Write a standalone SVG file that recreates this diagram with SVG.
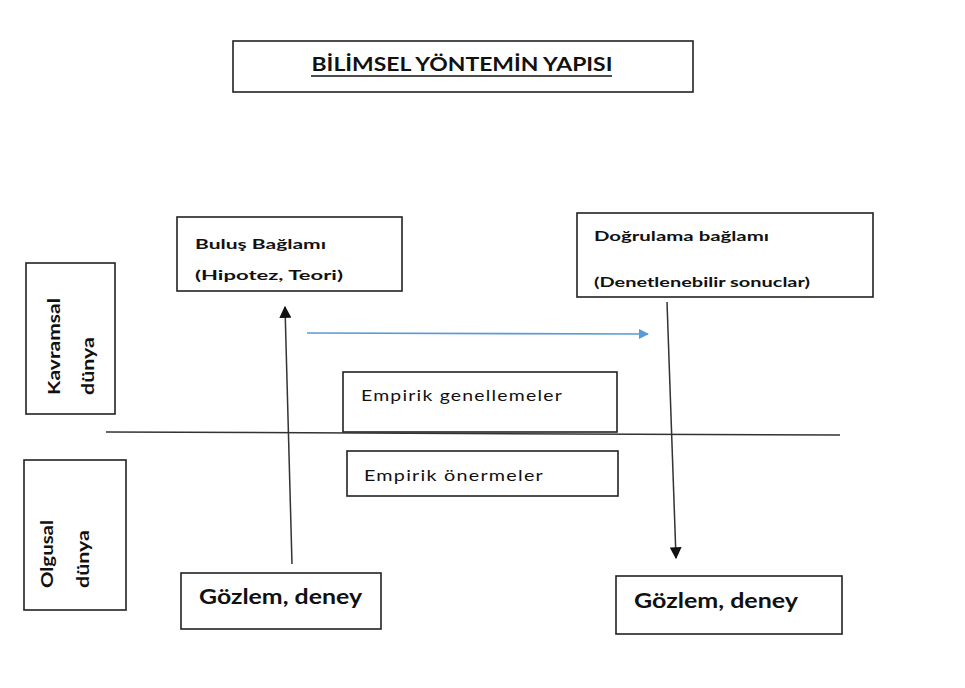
<svg xmlns="http://www.w3.org/2000/svg" width="965" height="688" viewBox="0 0 965 688">
<style>
.box{fill:#fff;stroke:#222;stroke-width:1.6}
.b{font-family:Lato,"Open Sans","Liberation Sans",sans-serif;font-weight:bold;fill:#111}
.r{font-family:Lato,"Open Sans","Liberation Sans",sans-serif;fill:#111;font-size:16px;letter-spacing:1px}
.ln{stroke:#333;stroke-width:1.5;fill:none}
</style>
<defs>
<marker id="ah" viewBox="0 0 10 10" refX="9" refY="5" markerWidth="12" markerHeight="12" markerUnits="userSpaceOnUse" orient="auto">
<path d="M0,0 L10,5 L0,10 z" fill="#111"/>
</marker>
<marker id="ahb" viewBox="0 0 10 10" refX="9" refY="5" markerWidth="13" markerHeight="10" markerUnits="userSpaceOnUse" orient="auto">
<path d="M0,0 L10,5 L0,10 z" fill="#5B9BD5"/>
</marker>
</defs>
<rect width="965" height="688" fill="#fff"/>
<g id="title">
<rect class="box" x="233" y="41" width="460" height="51"/>
<text class="b" x="462" y="71" font-size="19" text-anchor="middle" textLength="301" lengthAdjust="spacingAndGlyphs">BİLİMSEL YÖNTEMİN YAPISI</text>
<line x1="311" y1="76" x2="612" y2="76" stroke="#111" stroke-width="1.6"/>
</g>
<g id="kavramsal">
<rect class="box" x="26" y="263" width="89" height="151"/>
<text class="b" font-size="17" transform="translate(60,395) rotate(-90)" textLength="97" lengthAdjust="spacingAndGlyphs">Kavramsal</text>
<text class="b" font-size="17" transform="translate(94,395) rotate(-90)" textLength="58" lengthAdjust="spacingAndGlyphs">dünya</text>
</g>
<g id="olgusal">
<rect class="box" x="24" y="460" width="102" height="150"/>
<text class="b" font-size="17" transform="translate(53,588) rotate(-90)" textLength="68" lengthAdjust="spacingAndGlyphs">Olgusal</text>
<text class="b" font-size="17" transform="translate(89,588) rotate(-90)" textLength="58" lengthAdjust="spacingAndGlyphs">dünya</text>
</g>
<g id="bulus">
<rect class="box" x="177" y="217" width="225" height="74"/>
<text class="b" x="195" y="249" font-size="14" textLength="131" lengthAdjust="spacingAndGlyphs">Buluş Bağlamı</text>
<text class="b" x="195" y="280" font-size="14" textLength="148" lengthAdjust="spacingAndGlyphs">(Hipotez, Teori)</text>
</g>
<g id="dogrulama">
<rect class="box" x="577" y="213" width="296" height="84"/>
<text class="b" x="594" y="241" font-size="14" textLength="175" lengthAdjust="spacingAndGlyphs">Doğrulama bağlamı</text>
<text class="b" x="594" y="287" font-size="14" textLength="216" lengthAdjust="spacingAndGlyphs">(Denetlenebilir sonuclar)</text>
</g>
<g id="genellemeler">
<rect class="box" x="343" y="372" width="274" height="60"/>
<text class="r" x="361" y="401" textLength="202" lengthAdjust="spacingAndGlyphs">Empirik genellemeler</text>
</g>
<g id="onermeler">
<rect class="box" x="347" y="451" width="271" height="45"/>
<text class="r" x="364" y="481" textLength="180" lengthAdjust="spacingAndGlyphs">Empirik önermeler</text>
</g>
<g id="gozlem1">
<rect class="box" x="181" y="573" width="200" height="56"/>
<text class="b" x="199" y="604" font-size="20" textLength="163" lengthAdjust="spacingAndGlyphs">Gözlem, deney</text>
</g>
<g id="gozlem2">
<rect class="box" x="616" y="576" width="226" height="58"/>
<text class="b" x="634" y="608" font-size="20" textLength="164" lengthAdjust="spacingAndGlyphs">Gözlem, deney</text>
</g>
<g id="connectors">
<line class="ln" x1="106" y1="432" x2="840" y2="435"/>
<line class="ln" x1="292" y1="564" x2="285" y2="307" marker-end="url(#ah)"/>
<line class="ln" x1="667" y1="302" x2="676" y2="558" marker-end="url(#ah)"/>
<line x1="307" y1="333" x2="648" y2="334" stroke="#5B9BD5" stroke-width="1.6" marker-end="url(#ahb)"/>
</g>
</svg>
